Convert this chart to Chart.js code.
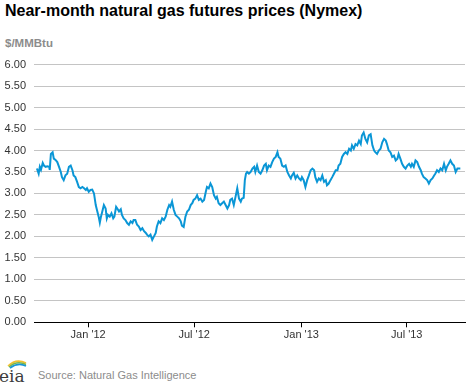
<!DOCTYPE html>
<html>
<head>
<meta charset="utf-8">
<script src="https://cdn.jsdelivr.net/npm/chart.js@4"></script>
<style>
  body { margin: 0; width: 470px; height: 383px; background: #fff; position: relative; overflow: hidden;
         font-family: "Liberation Sans", Arial, sans-serif; }
  #title { position: absolute; left: 5px; top: 1px; font-size: 16px; font-weight: bold; color: #000; line-height: 20px; }
  #unit { position: absolute; left: 5px; top: 36px; font-size: 11.5px; font-weight: bold; color: #8c8c8c; line-height: 14px; }
  #box { position: absolute; left: 0; top: 50px; width: 470px; height: 303px; }
  #logo { position: absolute; left: 0; top: 357px; }
  #source { position: absolute; left: 38px; top: 368px; font-size: 11px; color: #8c8c8c; line-height: 14px; }
</style>
</head>
<body>
<div id="title">Near-month natural gas futures prices (Nymex)</div>
<div id="unit">$/MMBtu</div>
<div id="box"><canvas id="chart" width="470" height="303"></canvas></div>
<svg id="logo" width="30" height="26" viewBox="0 0 30 26">
  <path d="M8 9 Q16 1 26 6" stroke="#f2c12e" stroke-width="1.6" fill="none"/>
  <path d="M9 10 Q17 3 26 7.5" stroke="#7ab648" stroke-width="1.6" fill="none"/>
  <path d="M10 11 Q18 5 26 9" stroke="#1a96d4" stroke-width="1.6" fill="none"/>
  <text x="-1" y="25" font-family="DejaVu Serif, serif" font-size="17" fill="#3c3c3c">eia</text>
</svg>
<div id="source">Source: Natural Gas Intelligence</div>
<script>
// days counted from 1 Jan 2012
const dayOffsets = [-88,-85,-83,-81,-78,-76,-73,-70,-67,-66,-64,-61,-59,-56,-53,-50,-47,-45,-42,-39,-36,-33,-30,-27,-25,-22,-19,-16,-13,-10,-7,-4,-2,
  1,4,7,10,13,15,18,20,22,25,27,30,32,34,37,40,43,45,48,50,53,56,58,61,64,67,70,73,76,78,81,84,87,90,93,96,99,101,104,107,110,113,116,118,121,124,127,
  130,133,136,139,141,144,147,150,153,156,159,161,164,167,170,173,176,179,181,184,187,190,193,196,199,202,204,207,210,213,216,219,221,224,227,230,233,
  236,239,242,244,247,250,253,256,259,262,264,267,269,271,273,276,279,282,285,287,290,293,296,299,302,305,307,310,313,316,319,322,325,327,330,333,336,
  339,342,345,348,350,353,356,359,362,365,367,370,373,376,379,382,385,388,390,393,396,399,402,405,408,410,413,416,419,422,425,428,430,433,436,439,442,
  445,448,451,453,456,459,462,465,468,470,473,476,479,482,485,488,491,493,496,499,502,505,508,511,513,516,519,522,525,528,531,533,536,539,542,545,548,
  551,554,556,559,562,565,568,571,573,576,579,582,585,588,591,594,596,599,602,605,608,611,614,616,619,622,625,628,631,634,636,639];

const prices = [3.58,3.46,3.62,3.55,3.71,3.65,3.62,3.63,3.62,3.55,3.92,3.96,3.81,3.78,3.73,3.62,3.50,3.38,3.31,3.42,3.46,3.62,3.65,3.54,3.42,3.38,3.27,3.15,3.12,3.15,3.12,3.08,3.12,
  3.04,3.08,3.09,3.00,2.73,2.62,2.46,2.32,2.46,2.62,2.73,2.65,2.42,2.50,2.46,2.54,2.42,2.46,2.69,2.65,2.58,2.63,2.50,2.42,2.38,2.31,2.27,2.35,2.31,2.38,2.38,2.27,2.23,2.15,2.19,2.12,2.08,2.04,2.00,2.04,1.92,2.00,2.08,2.23,2.35,2.31,2.42,
  2.38,2.46,2.62,2.73,2.69,2.81,2.62,2.50,2.46,2.42,2.35,2.25,2.22,2.46,2.58,2.62,2.73,2.78,2.85,2.88,2.96,2.85,2.88,2.81,2.85,3.04,3.15,3.12,3.23,3.15,2.96,2.88,2.92,2.77,2.73,2.77,2.81,
  2.73,2.65,2.73,2.85,2.88,2.73,2.92,3.12,2.88,2.81,2.88,2.90,3.31,3.46,3.50,3.46,3.50,3.58,3.62,3.50,3.65,3.50,3.46,3.54,3.65,3.69,3.54,3.65,3.62,3.73,3.81,3.85,3.96,3.85,3.81,3.65,3.62,
  3.65,3.50,3.42,3.35,3.42,3.48,3.35,3.42,3.35,3.31,3.38,3.31,3.15,3.31,3.42,3.54,3.58,3.54,3.38,3.27,3.35,3.31,3.42,3.27,3.31,3.19,3.23,3.31,3.38,3.46,3.54,3.54,3.65,3.69,3.85,3.92,3.96,
  3.92,4.04,4.00,4.12,4.04,4.15,4.12,4.23,4.15,4.35,4.42,4.27,4.19,4.35,4.38,4.12,4.00,3.96,3.92,4.00,4.04,4.19,4.27,4.23,4.15,4.00,3.96,3.85,3.88,3.77,3.81,3.92,3.81,3.69,3.62,3.58,3.65,
  3.69,3.62,3.69,3.62,3.77,3.73,3.62,3.54,3.46,3.38,3.35,3.31,3.23,3.31,3.35,3.42,3.46,3.54,3.50,3.58,3.54,3.69,3.54,3.62,3.69,3.77,3.69,3.65,3.50,3.58,3.58,3.58];

const tickDays = [0, 182, 366, 547];
const tickLabels = ["Jan '12", "Jul '12", "Jan '13", "Jul '13"];

const points = dayOffsets.map((d, i) => ({ x: d, y: prices[i] }));
const font = { family: "'Liberation Sans', Arial, sans-serif", size: 11 };

new Chart(document.getElementById("chart"), {
  type: "line",
  data: {
    datasets: [{
      data: points,
      borderColor: "#0a96d6",
      borderWidth: 2,
      pointRadius: 0,
      tension: 0,
      fill: false,
    }],
  },
  options: {
    responsive: false,
    animation: false,
    layout: { padding: { left: 0, right: 5, top: 13, bottom: 0 } },
    scales: {
      x: {
        type: "linear",
        min: -93,
        max: 647,
        afterFit: (scale) => { scale.height = 30.7; },
        afterBuildTicks: (scale) => { scale.ticks = tickDays.map((v) => ({ value: v })); },
        ticks: {
          autoSkip: false,
          maxRotation: 0,
          padding: 1,
          color: "#333",
          font,
          callback: (value) => tickLabels[tickDays.indexOf(value)],
        },
        grid: { drawOnChartArea: false, drawTicks: true, tickLength: 5, color: "#000" },
        border: { display: true, color: "#000", width: 1, z: 1 },
      },
      y: {
        min: 0,
        max: 6,
        afterFit: (scale) => { scale.width = 34; },
        ticks: {
          stepSize: 0.5,
          padding: 8,
          color: "#333",
          font,
          callback: (value) => value.toFixed(2),
        },
        grid: { color: "#c4c4c4", drawTicks: false },
        border: { display: false },
      },
    },
    plugins: {
      legend: { display: false },
      tooltip: { enabled: false },
    },
  },
});
</script>
</body>
</html>
